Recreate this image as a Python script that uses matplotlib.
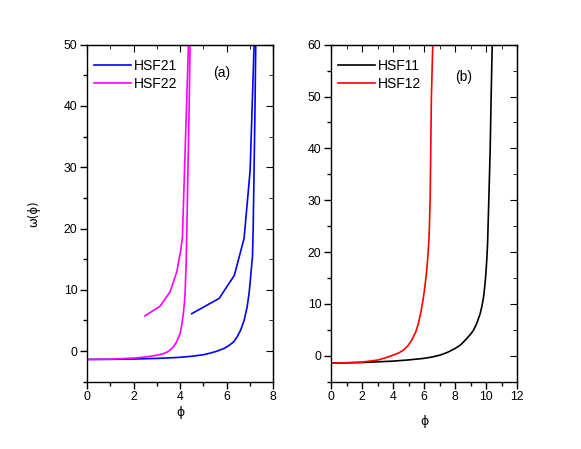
import matplotlib
matplotlib.use('Agg')
import matplotlib.pyplot as plt
from matplotlib.ticker import MultipleLocator

plt.rcParams['font.family'] = ['Liberation Sans', 'DejaVu Sans']

# panel (a)
hsf21_phi = [0, 1, 2, 3, 3.5, 4, 4.5, 5, 5.3, 5.6, 5.9, 6.1, 6.3, 6.45, 6.6, 6.75,
             6.88, 6.96, 7.02, 7.07, 7.11, 7.14, 7.18, 7.22, 7.25]
hsf21_w = [-1.37, -1.35, -1.3, -1.2, -1.12, -1.02, -0.85, -0.6, -0.33, 0.0, 0.45, 0.9,
           1.5, 2.3, 3.4, 5.0, 7.2, 9.3, 11.6, 13.8, 15.4, 19.8, 30, 40, 50]
hsf21b_phi = [4.5, 5.68, 6.33, 6.75, 7.01, 7.18]
hsf21b_w = [6.1, 8.6, 12.35, 18.4, 29.5, 50]

hsf22_phi = [0, 1, 2, 2.5, 2.7, 3.0, 3.28, 3.5, 3.71, 3.85, 4.0, 4.07, 4.14, 4.19,
             4.22, 4.26, 4.29, 4.34, 4.39, 4.43]
hsf22_w = [-1.37, -1.32, -1.15, -0.98, -0.87, -0.68, -0.44, -0.05, 0.66, 1.5, 2.84,
           4.2, 6.1, 8.0, 9.9, 14.3, 19.8, 30, 40, 50]
hsf22b_phi = [2.49, 3.14, 3.57, 3.86, 4.03, 4.1, 4.36]
hsf22b_w = [5.74, 7.32, 9.67, 12.95, 16.5, 18.5, 50]

# panel (b)
hsf11_phi = [0, 2, 4.02, 5, 5.96, 6.5, 7.03, 7.5, 8.0, 8.35, 8.65, 8.95, 9.18, 9.4,
             9.61, 9.73, 9.83, 9.91, 9.98, 10.04, 10.09, 10.17, 10.26, 10.32, 10.39]
hsf11_w = [-1.41, -1.3, -1.03, -0.8, -0.51, -0.25, 0.13, 0.65, 1.41, 2.1, 3.0, 4.0,
           4.9, 6.3, 8.1, 9.6, 11.3, 13.4, 15.8, 18.6, 21.6, 30, 40, 50, 60]
hsf12_phi = [0, 1, 2, 3, 3.5, 4.02, 4.4, 4.67, 4.95, 5.2, 5.45, 5.63, 5.8, 5.96,
             6.07, 6.17, 6.25, 6.32, 6.39, 6.43, 6.47, 6.56]
hsf12_w = [-1.41, -1.35, -1.22, -0.83, -0.4, 0.13, 0.6, 1.09, 1.9, 3.0, 4.5, 6.2,
           8.5, 11.3, 13.8, 16.5, 19.5, 22.9, 30, 40, 50, 60]

phi = '\u03d5'

fig = plt.figure(figsize=(5.81, 4.49), dpi=100)
ax1 = fig.add_axes([0.1497, 0.1499, 0.3205, 0.7505])
ax2 = fig.add_axes([0.5697, 0.1499, 0.3205, 0.7505])


def style(ax, xmax, ymax, xpad):
    ax.set_xlim(0, xmax)
    ax.set_ylim(-5, ymax)
    ax.xaxis.set_major_locator(MultipleLocator(2))
    ax.xaxis.set_minor_locator(MultipleLocator(1))
    ax.yaxis.set_major_locator(MultipleLocator(10))
    ax.yaxis.set_minor_locator(MultipleLocator(5))
    ax.tick_params(which='both', direction='out', labelsize=8.8, width=1,
                   top=False, right=False)
    ax.tick_params(which='major', length=5, pad=2)
    ax.tick_params(which='minor', length=3)
    # mirrored ticks pointing inside
    sec = ax.secondary_xaxis('top')
    sec.xaxis.set_major_locator(MultipleLocator(2))
    sec.xaxis.set_minor_locator(MultipleLocator(1))
    sec.tick_params(which='both', direction='in', labeltop=False)
    sec.tick_params(which='major', length=5)
    sec.tick_params(which='minor', length=3)
    secy = ax.secondary_yaxis('right')
    secy.yaxis.set_major_locator(MultipleLocator(10))
    secy.yaxis.set_minor_locator(MultipleLocator(5))
    secy.tick_params(which='both', direction='in', labelright=False)
    secy.tick_params(which='major', length=5)
    secy.tick_params(which='minor', length=3)
    for s in ax.spines.values():
        s.set_linewidth(1)
    ax.set_xlabel(phi, fontsize=9, family=['DejaVu Sans'], labelpad=xpad)


leg_kw = dict(loc='upper left', frameon=False, fontsize=10, handlelength=2.65,
              handletextpad=0.2, labelspacing=0.28, borderaxespad=0.0,
              bbox_to_anchor=(0.01, 0.975))

ax1.plot(hsf21_phi, hsf21_w, color='#0000ff', lw=1.2, label='HSF21')
ax1.plot(hsf21b_phi, hsf21b_w, color='#0000ff', lw=1.2)
ax1.plot(hsf22_phi, hsf22_w, color='#ff00ff', lw=1.2, label='HSF22')
ax1.plot(hsf22b_phi, hsf22b_w, color='#ff00ff', lw=1.2)
style(ax1, 8, 50, 2)
ax1.set_ylabel('\u03c9(' + phi + ')', fontsize=8.5, family=['DejaVu Sans'], labelpad=17)
ax1.text(0.726, 0.916, '(a)', transform=ax1.transAxes, fontsize=10, ha='center', va='center')
ax1.legend(**leg_kw)

ax2.plot(hsf11_phi, hsf11_w, color='black', lw=1.2, label='HSF11')
ax2.plot(hsf12_phi, hsf12_w, color='#ff0000', lw=1.2, label='HSF12')
style(ax2, 12, 60, 8)
ax2.text(0.71, 0.904, '(b)', transform=ax2.transAxes, fontsize=10, ha='center', va='center')
ax2.legend(**leg_kw)

fig.savefig('out.png', dpi=100)
